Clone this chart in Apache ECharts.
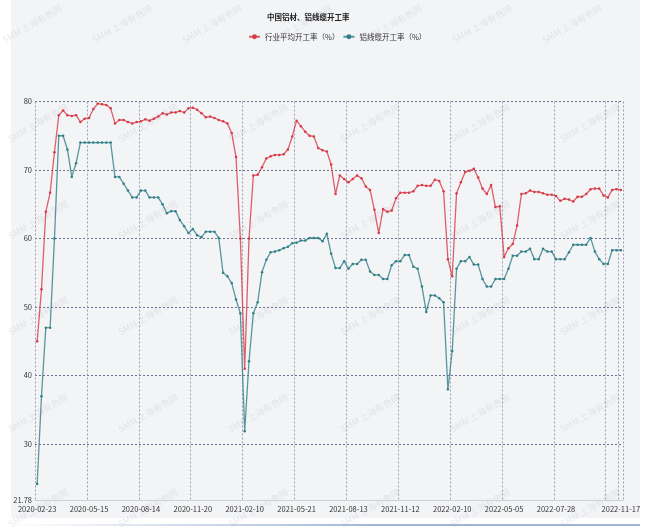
<!DOCTYPE html>
<html>
<head>
<meta charset="utf-8">
<script src="https://cdn.jsdelivr.net/npm/echarts@6/dist/echarts.min.js"></script>
<style>
html, body { margin: 0; padding: 0; background: #fff; }
#bg { position: absolute; left: 11px; top: 0; width: 629px; height: 518px; background: #f3f4f6; }
#bar { position: absolute; left: 11px; top: 524px; width: 629px; height: 2px;
       background: linear-gradient(to right, rgba(160,180,215,0), #9fb3d6 60%, #9fb3d6); }
#main { position: absolute; left: 0; top: 0; width: 645px; height: 527px; }
</style>
</head>
<body>
<div id="bg"></div>
<div id="bar"></div>
<div id="main"></div>
<script>
// 日期（周度）
const dates = [
    '2020-02-23', '2020-03-01', '2020-03-08', '2020-03-15', '2020-03-22', '2020-03-29', '2020-04-05', '2020-04-12',
    '2020-04-19', '2020-04-26', '2020-05-01', '2020-05-08', '2020-05-15', '2020-05-22', '2020-05-29', '2020-06-05',
    '2020-06-12', '2020-06-19', '2020-06-24', '2020-07-03', '2020-07-10', '2020-07-17', '2020-07-24', '2020-07-31',
    '2020-08-14', '2020-08-21', '2020-08-28', '2020-09-04', '2020-09-11', '2020-09-18', '2020-09-25', '2020-09-30',
    '2020-10-16', '2020-10-23', '2020-10-30', '2020-11-13', '2020-11-20', '2020-11-27', '2020-12-04', '2020-12-11',
    '2020-12-18', '2020-12-25', '2021-01-01', '2021-01-08', '2021-01-15', '2021-01-22', '2021-01-29', '2021-02-05',
    '2021-02-10', '2021-02-26', '2021-03-05', '2021-03-12', '2021-03-19', '2021-03-26', '2021-04-02', '2021-04-09',
    '2021-04-16', '2021-04-23', '2021-04-30', '2021-05-14', '2021-05-21', '2021-05-28', '2021-06-04', '2021-06-11',
    '2021-06-18', '2021-06-25', '2021-07-02', '2021-07-09', '2021-07-16', '2021-07-23', '2021-07-30', '2021-08-06',
    '2021-08-13', '2021-08-20', '2021-08-27', '2021-09-03', '2021-09-10', '2021-09-17', '2021-09-24', '2021-09-30',
    '2021-10-15', '2021-10-22', '2021-10-29', '2021-11-05', '2021-11-12', '2021-11-19', '2021-11-26', '2021-12-03',
    '2021-12-10', '2021-12-17', '2021-12-24', '2021-12-31', '2022-01-07', '2022-01-14', '2022-01-21', '2022-01-28',
    '2022-02-10', '2022-02-17', '2022-02-24', '2022-03-03', '2022-03-10', '2022-03-17', '2022-03-24', '2022-03-31',
    '2022-04-07', '2022-04-14', '2022-04-21', '2022-04-28', '2022-05-05', '2022-05-12', '2022-05-19', '2022-05-26',
    '2022-06-02', '2022-06-09', '2022-06-16', '2022-06-23', '2022-06-30', '2022-07-07', '2022-07-14', '2022-07-21',
    '2022-07-28', '2022-08-04', '2022-08-11', '2022-08-18', '2022-08-25', '2022-09-01', '2022-09-08', '2022-09-15',
    '2022-09-22', '2022-09-29', '2022-10-13', '2022-10-20', '2022-10-27', '2022-11-03', '2022-11-10', '2022-11-17'
];

// 行业平均开工率（%）
const avgRate = [
    45.0, 52.6, 63.9, 66.7, 72.6, 78.0, 78.7, 78.0, 77.9, 78.0, 77.0, 77.5, 77.6, 78.9, 79.7, 79.6,
    79.5, 79.0, 76.8, 77.3, 77.3, 77.0, 76.8, 77.0, 77.1, 77.4, 77.2, 77.5, 77.8, 78.3, 78.1, 78.4,
    78.4, 78.6, 78.4, 79.0, 79.1, 78.8, 78.3, 77.7, 77.8, 77.6, 77.3, 77.1, 76.8, 75.4, 71.9, 60.0,
    41.0, 60.0, 69.2, 69.3, 70.4, 71.7, 72.0, 72.2, 72.2, 72.3, 73.0, 74.9, 77.2, 76.4, 75.6, 75.0,
    74.9, 73.2, 72.9, 72.7, 70.8, 66.5, 69.2, 68.7, 68.2, 68.7, 69.2, 68.8, 67.6, 67.1, 64.2, 60.8,
    64.3, 63.9, 64.1, 65.9, 66.7, 66.7, 66.7, 66.9, 67.7, 67.8, 67.7, 67.7, 68.6, 68.4, 66.9, 57.0,
    54.5, 66.6, 68.2, 69.7, 69.9, 70.2, 68.9, 67.3, 66.5, 67.8, 64.6, 64.7, 57.3, 58.6, 59.2, 61.9,
    66.5, 66.6, 67.0, 66.8, 66.8, 66.6, 66.4, 66.4, 66.2, 65.5, 65.8, 65.7, 65.4, 66.1, 66.1, 66.5,
    67.2, 67.3, 67.3, 66.3, 66.0, 67.1, 67.2, 67.1
];

// 铝线缆开工率（%）
const cableRate = [
    24.2, 37.0, 47.0, 47.0, 60.0, 75.0, 75.0, 73.0, 69.0, 71.0, 74.0, 74.0, 74.0, 74.0, 74.0, 74.0,
    74.0, 74.0, 69.0, 69.0, 68.0, 67.0, 66.0, 66.0, 67.0, 67.0, 66.0, 66.0, 66.0, 65.0, 63.7, 64.0,
    64.0, 62.7, 61.8, 60.8, 61.4, 60.5, 60.2, 61.0, 61.0, 61.0, 60.1, 55.0, 54.5, 53.5, 51.1, 49.1,
    31.9, 42.1, 49.1, 50.7, 55.1, 56.9, 58.0, 58.1, 58.3, 58.6, 58.8, 59.3, 59.4, 59.7, 59.7, 60.1,
    60.1, 60.1, 59.6, 60.7, 57.8, 55.7, 55.7, 56.7, 55.6, 56.3, 56.3, 56.9, 56.9, 55.2, 54.7, 54.7,
    54.1, 54.1, 56.1, 56.7, 56.7, 57.6, 57.6, 55.9, 55.6, 53.0, 49.3, 51.7, 51.7, 51.3, 50.7, 38.0,
    43.6, 55.6, 56.7, 56.7, 57.3, 56.2, 56.2, 54.1, 53.0, 53.0, 54.1, 54.1, 54.1, 55.6, 57.5, 57.5,
    58.1, 58.1, 58.5, 57.0, 57.0, 58.5, 58.1, 58.1, 57.0, 57.0, 57.0, 58.0, 59.1, 59.1, 59.1, 59.1,
    60.1, 58.1, 57.0, 56.3, 56.3, 58.3, 58.3, 58.3
];

const seriesNames = ['行业平均开工率（%）', '铝线缆开工率（%）'];
const colors = ['#d63a47', '#2f7f86'];
const font = 'Noto Sans CJK SC';

// 水印
const marks = [];
[32, 122, 212, 302, 392, 482, 572].forEach(x => marks.push([x, 24]));
[123, 220, 316, 413, 508].forEach(y => {
    [38, 148, 258, 370, 480, 590].forEach(x => marks.push([x, y]));
});

const chart = echarts.init(document.getElementById('main'));
chart.setOption({
    animation: false,
    color: colors,
    textStyle: { fontFamily: font },
    title: {
        text: '中国铝材、铝线缆开工率',
        left: 262,
        top: 8,
        textStyle: { fontSize: 7.5, fontWeight: 'bold', color: '#222', fontFamily: font }
    },
    legend: {
        data: seriesNames,
        top: 28,
        left: 243,
        itemWidth: 11,
        itemHeight: 6,
        itemGap: 3,
        textStyle: { fontSize: 7.5, color: '#333', fontFamily: font }
    },
    graphic: marks.map(p => ({
        type: 'text',
        x: p[0],
        y: p[1],
        rotation: 0.52,
        silent: true,
        style: {
            text: 'SMM 上海有色网',
            fill: 'rgba(170,176,190,0.25)',
            font: '9px "Noto Sans CJK SC"',
            align: 'center',
            verticalAlign: 'middle'
        }
    })),
    grid: { left: 35, right: 22, top: 101.5, bottom: 26.5 },
    xAxis: {
        type: 'category',
        data: dates,
        boundaryGap: true,
        axisLine: { lineStyle: { color: '#cdd1dc' } },
        axisTick: { show: false },
        axisLabel: {
            interval: 11,
            showMaxLabel: true,
            fontSize: 7.5,
            color: '#333',
            margin: 5,
            formatter: v => (v === dates[132] ? '' : v)
        },
        splitLine: { show: true, lineStyle: { color: '#9a9db3', type: [2, 2], width: 1 } }
    },
    yAxis: {
        type: 'value',
        min: 21.78,
        max: 80,
        axisLine: { show: false },
        axisTick: { show: false },
        axisLabel: { fontSize: 7.5, color: '#333', margin: 3 },
        splitLine: { lineStyle: { color: '#6e7290', type: [2, 2], width: 1 } }
    },
    series: [
        {
            name: seriesNames[0],
            type: 'line',
            data: avgRate,
            symbol: 'circle',
            symbolSize: 2.5,
            showSymbol: true,
            lineStyle: { width: 1.3, color: 'rgba(214,58,71,0.8)' },
            itemStyle: { color: colors[0] }
        },
        {
            name: seriesNames[1],
            type: 'line',
            data: cableRate,
            symbol: 'circle',
            symbolSize: 2.5,
            showSymbol: true,
            lineStyle: { width: 1.3, color: 'rgba(47,127,134,0.8)' },
            itemStyle: { color: colors[1] }
        }
    ]
});
</script>
</body>
</html>
